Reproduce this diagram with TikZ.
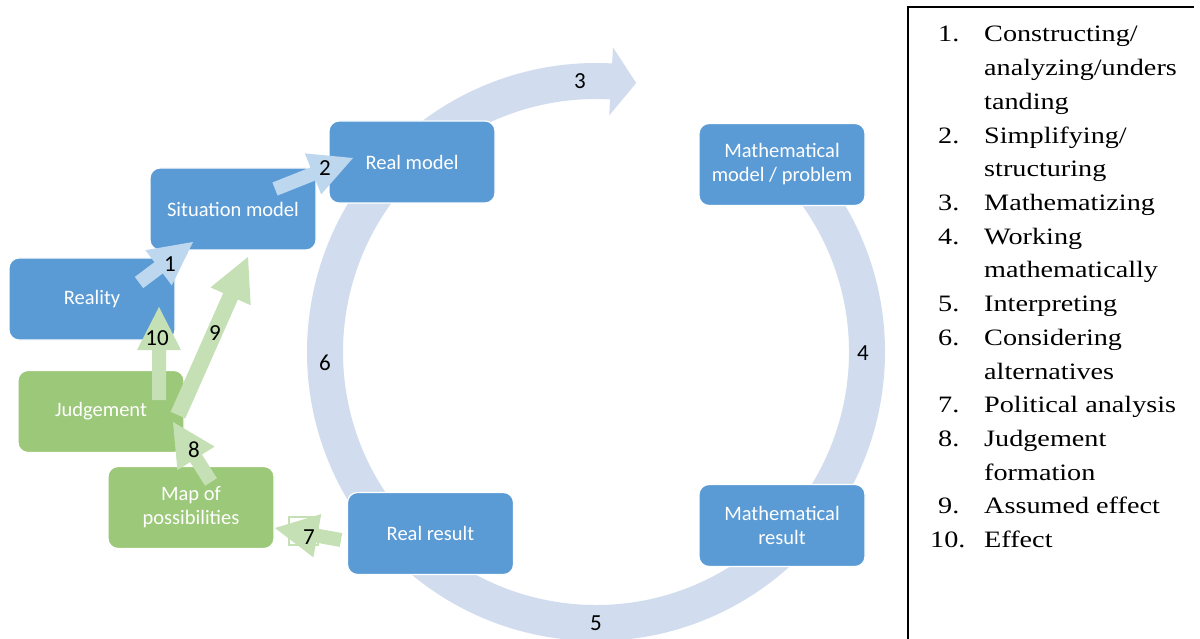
\documentclass[tikz,border=0pt]{standalone}
\usepackage{fontspec}
\setmainfont{Carlito}
\newfontfamily\legendfont[FakeStretch=1.2]{Liberation Serif}
\usetikzlibrary{calc}
\definecolor{boxblue}{RGB}{91,155,213}
\definecolor{boxgreen}{RGB}{156,200,122}
\definecolor{ringblue}{RGB}{209,221,238}
\definecolor{arrblue}{RGB}{189,215,238}
\definecolor{arrgreen}{RGB}{197,224,180}
\newcommand\blockarr[4]{%
  \coordinate (ba) at ($(#3)!43pt!(#2)$);
  \fill[#1] ($(#2)!#4!90:(#3)$) -- ($(ba)!#4!-90:(#2)$) -- ($(ba)!22pt!-90:(#2)$) -- (#3)
    -- ($(ba)!22pt!90:(#2)$) -- ($(ba)!#4!90:(#2)$) -- ($(#2)!#4!-90:(#3)$) -- cycle;}
\begin{document}
\begin{tikzpicture}[x=1pt,y=1pt,
  box/.style={rounded corners=10pt, minimum width=166pt, minimum height=82pt, draw=white,
    line width=1.2pt, text=white, font=\fontsize{20.5pt}{24pt}\selectfont, align=center, inner sep=0pt},
  bluebox/.style={box, fill=boxblue},
  greenbox/.style={box, fill=boxgreen},
  num/.style={font=\fontsize{23pt}{26pt}\selectfont, text=black, inner sep=0pt},
  legtext/.style={font=\legendfont\fontsize{23.5pt}{33.7pt}\selectfont, anchor=base west, inner sep=0pt}]
\useasboundingbox (0,0) rectangle (1200,-639);
\fill[white] (0,0) rectangle (1200,-639);

% ring
\coordinate (c) at (596,-352);
\draw[ringblue, line width=36pt] ($(c)+(40:271)$) arc[start angle=40, end angle=-273.5, radius=271];
\fill[ringblue] ($(c)+(86.8:305)$) -- ($(c)+(81.5:272)$) -- ($(c)+(86.8:237)$) -- cycle;

% boxes
\node[bluebox] (reality) at (92,-299) {Reality};
\node[bluebox] (situation) at (233,-209) {Situation model};
\node[bluebox] (realmodel) at (412,-162) {Real model};
\node[bluebox] (mathmodel) at (782,-164.5) {Mathematical\\model / problem};
\node[bluebox] (mathresult) at (782,-525.5) {Mathematical\\result};
\node[bluebox] (realresult) at (430.5,-533.5) {Real result};
\node[greenbox] (map) at (191,-507.5) {Map of\\possibilities};
\node[greenbox] (judgement) at (101,-411.5) {Judgement};

% block arrows
\coordinate (s1) at (139,-282.5); \coordinate (e1) at (193,-242);
\coordinate (s2) at (275,-189);   \coordinate (e2) at (353,-158);
\coordinate (s10) at (159,-400);  \coordinate (e10) at (159,-307);
\coordinate (s9) at (178,-415);   \coordinate (e9) at (248,-257);
\coordinate (s8) at (211,-482);   \coordinate (e8) at (173,-422);
\coordinate (s7) at (341,-540);   \coordinate (e7) at (275,-528);
\blockarr{arrblue}{s1}{e1}{7pt}
\blockarr{arrblue}{s2}{e2}{7pt}
\blockarr{arrgreen}{s10}{e10}{7pt}
\blockarr{arrgreen}{s9}{e9}{8pt}
\blockarr{arrgreen}{s8}{e8}{7pt}
\blockarr{arrgreen}{s7}{e7}{7pt}
\draw[arrgreen, line width=1.2pt] (289,-517) rectangle (318,-545);

% numbers
\node[num] (n1) at (170,-264) {1};
\node[num] (n2) at (325,-168) {2};
\node[num] (n3) at (580,-81) {3};
\node[num] (n4) at (863,-353) {4};
\node[num] (n5) at (596,-623) {5};
\node[num] (n6) at (325,-363) {6};
\node[num] (n7) at (309,-537) {7};
\node[num] (n8) at (194,-450) {8};
\node[num] (n9) at (215,-333) {9};
\node[num] (n10) at (157,-338) {10};

% legend
\draw[line width=1.5pt] (1194,-7) -- (908,-7) -- (908,-645);
\node[legtext] (k1) at (938,-42) {1.};
\node[legtext] (t1) at (984,-42) {Constructing/};
\node[legtext] (t1b) at (984,-75.7) {analyzing/unders};
\node[legtext] (t1c) at (984,-109.4) {tanding};
\node[legtext] (k2) at (938,-143.1) {2.};
\node[legtext] (t2) at (984,-143.1) {Simplifying/};
\node[legtext] (t2b) at (984,-176.8) {structuring};
\node[legtext] (k3) at (938,-210.5) {3.};
\node[legtext] (t3) at (984,-210.5) {Mathematizing};
\node[legtext] (k4) at (938,-244.2) {4.};
\node[legtext] (t4) at (984,-244.2) {Working};
\node[legtext] (t4b) at (984,-277.9) {mathematically};
\node[legtext] (k5) at (938,-311.6) {5.};
\node[legtext] (t5) at (984,-311.6) {Interpreting};
\node[legtext] (k6) at (938,-345.3) {6.};
\node[legtext] (t6) at (984,-345.3) {Considering};
\node[legtext] (t6b) at (984,-379) {alternatives};
\node[legtext] (k7) at (938,-412.7) {7.};
\node[legtext] (t7) at (984,-412.7) {Political analysis};
\node[legtext] (k8) at (938,-446.4) {8.};
\node[legtext] (t8) at (984,-446.4) {Judgement};
\node[legtext] (t8b) at (984,-480.1) {formation};
\node[legtext] (k9) at (938,-513.8) {9.};
\node[legtext] (t9) at (984,-513.8) {Assumed effect};
\node[legtext] (k10) at (930,-547.5) {10.};
\node[legtext] (t10) at (984,-547.5) {Effect};
\end{tikzpicture}
\end{document}
